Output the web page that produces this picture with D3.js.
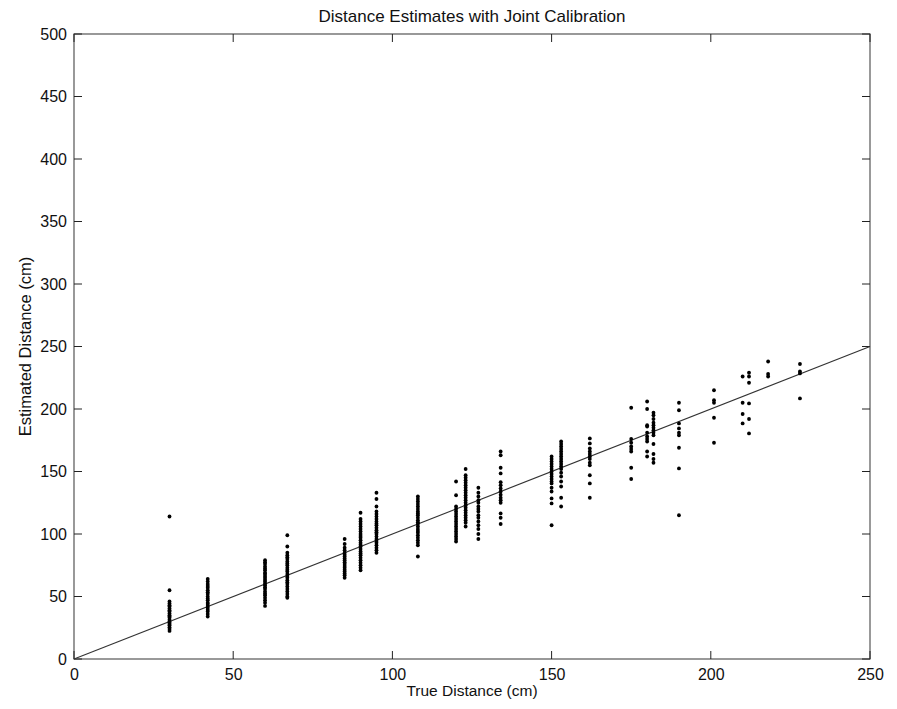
<!DOCTYPE html>
<html><head><meta charset="utf-8">
<script src="https://cdn.jsdelivr.net/npm/d3@7"></script>
<style>body{margin:0;background:#fff}svg{display:block}text{font-family:"Liberation Sans",Arial,sans-serif;fill:#111}</style>
</head><body>
<script>
const titleText = "Distance Estimates with Joint Calibration";
const xLabel = "True Distance (cm)";
const yLabel = "Estimated Distance (cm)";
const xTicks = [0, 50, 100, 150, 200, 250];
const yTicks = [0, 50, 100, 150, 200, 250, 300, 350, 400, 450, 500];
const idealLine = [[0, 0], [250, 250]];
const trueDistances = [30, 42, 60, 67, 85, 90, 95, 108, 120, 123, 127, 134, 150, 153, 162, 175, 180, 182, 190, 201, 210, 212, 218, 228];
const estimatedDistances = [
  [114, 55, 46, 44.5, 43, 42, 40.5, 39, 38, 36.5, 35, 34, 33, 31.5, 30, 29, 28, 27, 25.5, 24, 22.5],
  [64, 62, 60, 58.5, 57, 55, 53.5, 52, 50, 48.5, 47, 45, 44, 42.5, 41, 39.5, 38, 36, 34],
  [79, 77.5, 76, 74, 72.5, 71, 69, 68, 66.5, 65, 63.5, 62, 60.5, 59, 57.5, 56, 54, 52.5, 51, 49, 47, 45, 42.5],
  [99, 90, 85, 83, 81.5, 80, 78, 76.5, 75, 73, 71.5, 70, 68, 66.5, 65, 63, 61.5, 60, 58, 56, 54, 52, 50, 49],
  [96, 92, 89, 87, 85, 83.5, 82, 80.5, 79, 77.5, 76, 74.5, 73, 71.5, 70, 68.5, 67, 65],
  [117, 112, 110, 108, 106, 104, 102, 100, 98.5, 97, 95, 93, 91.5, 90, 88, 86, 84.5, 83, 81, 79, 77, 75, 73, 71],
  [133, 128, 122, 118, 116, 114, 112, 110, 108.5, 107, 105, 103, 101.5, 100, 98, 96, 94.5, 93, 91, 89, 87, 85],
  [130, 128, 126, 124, 122, 120, 118, 116.5, 115, 113, 111, 109.5, 108, 106, 104, 102.5, 101, 99, 97, 95, 93, 91, 82],
  [142, 131, 122, 120, 118, 116, 114, 112, 110, 108, 106, 104, 102, 100, 98, 96, 94],
  [152, 147, 145, 143, 141, 139, 137, 135, 133, 131, 129, 127, 125, 123, 121, 119, 117, 115, 113, 111, 109, 106],
  [137, 133, 130, 127, 125, 122, 120, 118, 115, 113, 110, 107, 104, 100, 96],
  [166, 163, 153, 148.5, 141.5, 139, 136.5, 134, 131.5, 129, 127, 125, 116.5, 113, 108],
  [162, 160, 158, 156, 154, 152, 150, 148, 146, 144, 142, 140.5, 137, 134, 128.5, 124.5, 107],
  [174, 172, 170, 168, 166, 164, 162, 160, 158, 156, 154, 152, 149, 146, 142, 138, 129, 122],
  [176.5, 172.5, 168.5, 166, 164, 162, 160, 157, 155, 147, 140.5, 129],
  [201, 176, 173, 170, 168, 166, 153, 144],
  [206, 200, 187, 186, 181, 178, 176, 174, 166, 162],
  [197, 195, 192, 189, 187, 185, 183, 181, 179, 172, 164, 160, 157],
  [205, 199, 188.5, 184.5, 181, 179, 169, 152.5, 115],
  [215, 207, 205, 193, 173],
  [226, 205, 196, 188.5],
  [229, 226, 221, 204.5, 192, 180.5],
  [238, 228, 226],
  [236, 230, 228.5, 208.5]
];

const W = 897, H = 709;
const m = {left: 74, right: 27, top: 34, bottom: 50};
const svg = d3.select("body").append("svg").attr("width", W).attr("height", H);
const x = d3.scaleLinear().domain([0, 250]).range([m.left, W - m.right]);
const y = d3.scaleLinear().domain([0, 500]).range([H - m.bottom, m.top]);
const tl = 8;

const g = svg.append("g");
g.append("rect").attr("x", x(0)).attr("y", y(500)).attr("width", x(250) - x(0)).attr("height", y(0) - y(500))
  .attr("fill", "none").attr("stroke", "#555").attr("stroke-width", 1.2);

const xAx = d3.axisBottom(x).tickValues(xTicks).tickSize(0).tickPadding(10).tickFormat(d3.format("d"));
const yAx = d3.axisLeft(y).tickValues(yTicks).tickSize(0).tickPadding(7).tickFormat(d3.format("d"));
const gx = svg.append("g").attr("transform", `translate(0,${y(0)})`).call(xAx);
const gy = svg.append("g").attr("transform", `translate(${x(0)},0)`).call(yAx);
[gx, gy].forEach(a => { a.select(".domain").remove(); a.selectAll("text").style("font-size", "16px").attr("fill", "#111"); });

const tk = svg.append("g").attr("stroke", "#222").attr("stroke-width", 1);
xTicks.forEach(v => {
  tk.append("line").attr("x1", x(v)).attr("x2", x(v)).attr("y1", y(0)).attr("y2", y(0) - tl);
  tk.append("line").attr("x1", x(v)).attr("x2", x(v)).attr("y1", y(500)).attr("y2", y(500) + tl);
});
yTicks.forEach(v => {
  tk.append("line").attr("x1", x(0)).attr("x2", x(0) + tl).attr("y1", y(v)).attr("y2", y(v));
  tk.append("line").attr("x1", x(250)).attr("x2", x(250) - tl).attr("y1", y(v)).attr("y2", y(v));
});

svg.append("path").datum(idealLine)
  .attr("d", d3.line().x(d => x(d[0])).y(d => y(d[1])))
  .attr("fill", "none").attr("stroke", "#333").attr("stroke-width", 1.1);

const pts = [];
trueDistances.forEach((t, i) => estimatedDistances[i].forEach(e => pts.push([t, e])));
svg.append("g").selectAll("circle").data(pts).enter().append("circle")
  .attr("cx", d => x(d[0])).attr("cy", d => y(d[1])).attr("r", 1.9).attr("fill", "#000");

svg.append("text").attr("x", (x(0) + x(250)) / 2).attr("y", 22).attr("text-anchor", "middle").style("font-size", "17px").text(titleText);
svg.append("text").attr("x", (x(0) + x(250)) / 2).attr("y", 696).attr("text-anchor", "middle").style("font-size", "15.5px").text(xLabel);
svg.append("text").attr("transform", `translate(31,${(y(0) + y(500)) / 2}) rotate(-90)`).attr("text-anchor", "middle").style("font-size", "16.5px").text(yLabel);
</script>
</body></html>
